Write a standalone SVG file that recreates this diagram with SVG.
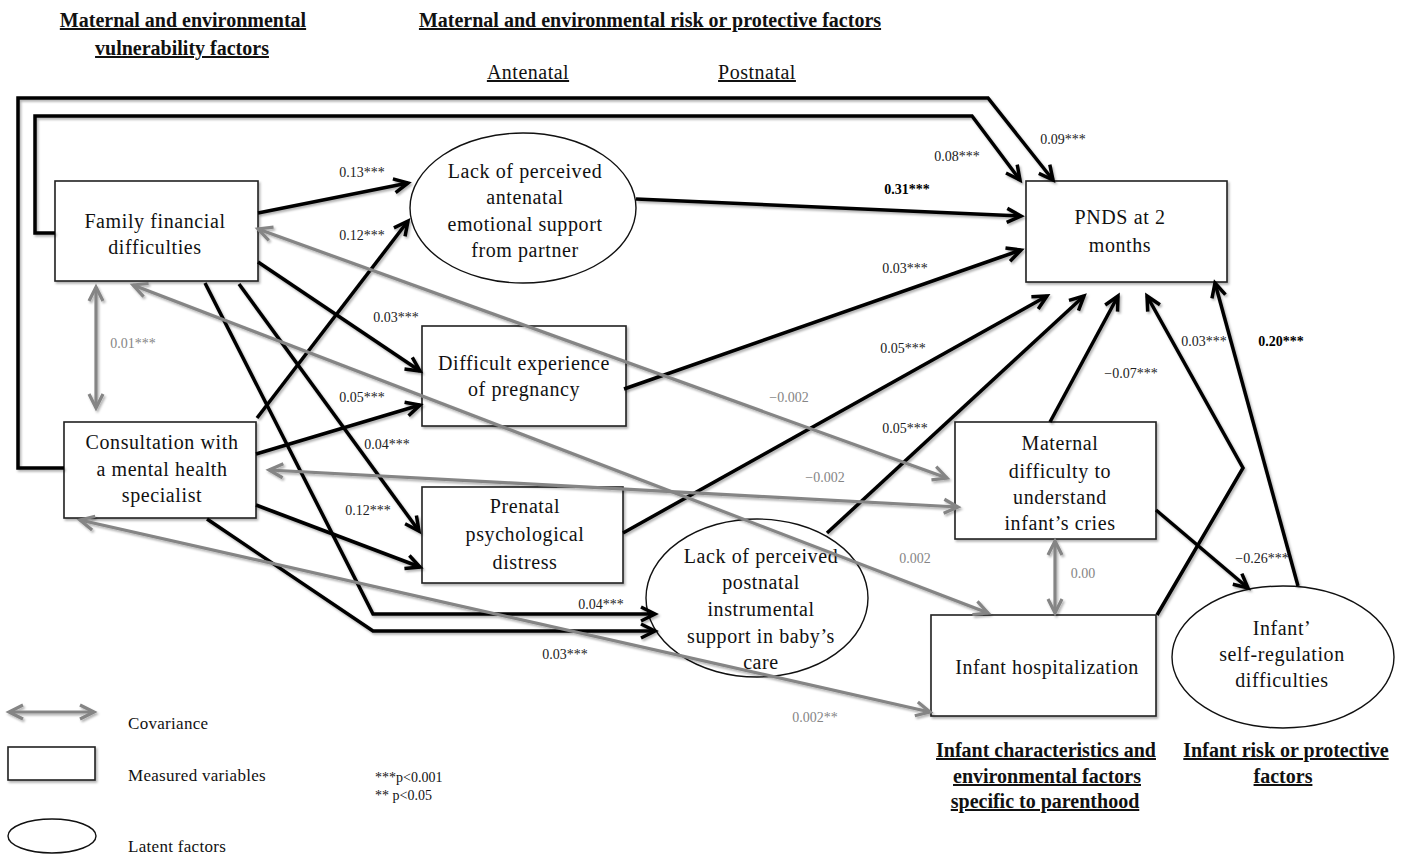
<svg xmlns="http://www.w3.org/2000/svg" width="1408" height="855" viewBox="0 0 1408 855">
<defs>
<style>
.node rect{fill:#fff;stroke:#222;stroke-width:1.6}
.node ellipse{fill:#fff;stroke:#111;stroke-width:1.4}
.nt{font-family:"Liberation Serif","Times New Roman",serif;font-size:20px;letter-spacing:0.6px;fill:#111;text-anchor:middle}
.hd{font-family:"Liberation Serif","Times New Roman",serif;font-size:20px;font-weight:bold;fill:#111;text-anchor:middle;text-decoration:underline}
.sub{font-family:"Liberation Serif","Times New Roman",serif;font-size:20px;letter-spacing:0.5px;fill:#111;text-anchor:middle;text-decoration:underline}
.blk{fill:none;stroke:#000;stroke-width:3.5;stroke-linejoin:miter}
.gry{fill:none;stroke:#858585;stroke-width:3.2}
.lb{font-family:"Liberation Serif","Times New Roman",serif;font-size:14px;fill:#222;text-anchor:middle}
.lbb{font-weight:bold;fill:#000}
.lg{font-family:"Liberation Serif","Times New Roman",serif;font-size:14px;fill:#858585;text-anchor:middle}
.leg{font-family:"Liberation Serif","Times New Roman",serif;font-size:17px;letter-spacing:0.3px;fill:#111}
.legs{font-family:"Liberation Serif","Times New Roman",serif;font-size:14px;fill:#111}
</style>
<filter id="sh" filterUnits="userSpaceOnUse" x="0" y="0" width="1408" height="855">
<feDropShadow dx="1.5" dy="2" stdDeviation="1.3" flood-color="#000" flood-opacity="0.3"/>
</filter>
<marker id="ab" markerUnits="userSpaceOnUse" markerWidth="20" markerHeight="20" refX="15" refY="8" orient="auto" overflow="visible">
<path d="M1,1 L15,8 L1,15" fill="none" stroke="#000" stroke-width="3.5"/>
</marker>
<marker id="ag" markerUnits="userSpaceOnUse" markerWidth="20" markerHeight="20" refX="15" refY="8" orient="auto-start-reverse" overflow="visible">
<path d="M1,1 L15,8 L1,15" fill="none" stroke="#858585" stroke-width="3.2"/>
</marker>
</defs>
<rect width="1408" height="855" fill="#fff"/>

<g id="headers">
<text class="hd" x="183" y="27">Maternal and environmental</text>
<text class="hd" x="182" y="55">vulnerability factors</text>
<text class="hd" x="650" y="27">Maternal and environmental risk or protective factors</text>
<text class="sub" x="528" y="79">Antenatal</text>
<text class="sub" x="757" y="79">Postnatal</text>
<text class="hd" x="1046" y="757">Infant characteristics and</text>
<text class="hd" x="1047" y="783">environmental factors</text>
<text class="hd" x="1045" y="808">specific to parenthood</text>
<text class="hd" x="1286" y="757">Infant risk or protective</text>
<text class="hd" x="1283" y="783">factors</text>
</g>

<g id="family" class="node">
<rect x="55" y="181" width="203" height="100" filter="url(#sh)"/>
<text class="nt" x="155" y="228">Family financial</text>
<text class="nt" x="155" y="254">difficulties</text>
</g>
<g id="consultation" class="node">
<rect x="64" y="422" width="192" height="96" filter="url(#sh)"/>
<text class="nt" x="162" y="449">Consultation with</text>
<text class="nt" x="162" y="476">a mental health</text>
<text class="nt" x="162" y="502">specialist</text>
</g>
<g id="antenatal-support" class="node">
<ellipse cx="523" cy="208" rx="113" ry="75"/>
<text class="nt" x="525" y="178">Lack of perceived</text>
<text class="nt" x="525" y="204">antenatal</text>
<text class="nt" x="525" y="231">emotional support</text>
<text class="nt" x="525" y="257">from partner</text>
</g>
<g id="difficult-pregnancy" class="node">
<rect x="422" y="326" width="204" height="100" filter="url(#sh)"/>
<text class="nt" x="524" y="370">Difficult experience</text>
<text class="nt" x="524" y="396">of pregnancy</text>
</g>
<g id="prenatal-distress" class="node">
<rect x="422" y="487" width="201" height="96" filter="url(#sh)"/>
<text class="nt" x="525" y="513">Prenatal</text>
<text class="nt" x="525" y="541">psychological</text>
<text class="nt" x="525" y="569">distress</text>
</g>
<g id="postnatal-support" class="node">
<ellipse cx="757" cy="598" rx="111" ry="79"/>
<text class="nt" x="761" y="563">Lack of perceived</text>
<text class="nt" x="761" y="589">postnatal</text>
<text class="nt" x="761" y="616">instrumental</text>
<text class="nt" x="761" y="643">support in baby’s</text>
<text class="nt" x="761" y="669">care</text>
</g>
<g id="pnds" class="node">
<rect x="1026" y="181" width="201" height="101" filter="url(#sh)"/>
<text class="nt" x="1120" y="224">PNDS at 2</text>
<text class="nt" x="1120" y="252">months</text>
</g>
<g id="maternal-cries" class="node">
<rect x="955" y="422" width="201" height="117" filter="url(#sh)"/>
<text class="nt" x="1060" y="450">Maternal</text>
<text class="nt" x="1060" y="478">difficulty to</text>
<text class="nt" x="1060" y="504">understand</text>
<text class="nt" x="1060" y="530">infant’s cries</text>
</g>
<g id="hospitalization" class="node">
<rect x="931" y="615" width="225" height="101" filter="url(#sh)"/>
<text class="nt" x="1047" y="674">Infant hospitalization</text>
</g>
<g id="self-regulation" class="node">
<ellipse cx="1283" cy="657" rx="111" ry="71"/>
<text class="nt" x="1282" y="635">Infant’</text>
<text class="nt" x="1282" y="661">self-regulation</text>
<text class="nt" x="1282" y="687">difficulties</text>
</g>

<g id="connectors">
<g filter="url(#sh)">
<path class="blk" d="M55,233 L35,233 L35,116 L972,116 L1020,180" marker-end="url(#ab)"/>
<path class="blk" d="M64,468 L18,468 L18,98 L988,98 L1053,180" marker-end="url(#ab)"/>
<path class="blk" d="M258,213 L408,183" marker-end="url(#ab)"/>
<path class="blk" d="M257,418 L408,221" marker-end="url(#ab)"/>
<path class="blk" d="M258,262 L420,371" marker-end="url(#ab)"/>
<path class="blk" d="M256,454 L420,405" marker-end="url(#ab)"/>
<path class="blk" d="M239,284 L419,531" marker-end="url(#ab)"/>
<path class="blk" d="M256,505 L420,567" marker-end="url(#ab)"/>
<path class="blk" d="M205,283 L373,614 L655,614" marker-end="url(#ab)"/>
<path class="blk" d="M207,519 L373,631 L655,631" marker-end="url(#ab)"/>
<path class="blk" d="M636,199 L1021,216" marker-end="url(#ab)"/>
<path class="blk" d="M624,389 L1021,250" marker-end="url(#ab)"/>
<path class="blk" d="M623,533 L1047,296" marker-end="url(#ab)"/>
<path class="blk" d="M827,533 L1084,296" marker-end="url(#ab)"/>
<path class="blk" d="M1050,422 L1118,296" marker-end="url(#ab)"/>
<path class="blk" d="M1157,615 L1243,468 L1147,296" marker-end="url(#ab)"/>
<path class="blk" d="M1298,586 L1215,283" marker-end="url(#ab)"/>
<path class="blk" d="M1156,510 L1248,588" marker-end="url(#ab)"/>
<path class="gry" d="M96,287 L96,408" marker-start="url(#ag)" marker-end="url(#ag)"/>
<path class="gry" d="M258,229 L947,478" marker-start="url(#ag)" marker-end="url(#ag)"/>
<path class="gry" d="M133,285 L988,613" marker-start="url(#ag)" marker-end="url(#ag)"/>
<path class="gry" d="M269,470 L958,507" marker-start="url(#ag)" marker-end="url(#ag)"/>
<path class="gry" d="M80,520 L930,712" marker-start="url(#ag)" marker-end="url(#ag)"/>
<path class="gry" d="M1055,541 L1055,613" marker-start="url(#ag)" marker-end="url(#ag)"/>
</g>
<g id="labels">
<text class="lb" x="362" y="177">0.13***</text>
<text class="lb" x="362" y="240">0.12***</text>
<text class="lb" x="396" y="322">0.03***</text>
<text class="lb" x="362" y="402">0.05***</text>
<text class="lb" x="387" y="449">0.04***</text>
<text class="lb" x="368" y="515">0.12***</text>
<text class="lb" x="601" y="609">0.04***</text>
<text class="lb" x="565" y="659">0.03***</text>
<text class="lb lbb" x="907" y="194">0.31***</text>
<text class="lb" x="957" y="161">0.08***</text>
<text class="lb" x="1063" y="144">0.09***</text>
<text class="lb" x="905" y="273">0.03***</text>
<text class="lb" x="903" y="353">0.05***</text>
<text class="lb" x="905" y="433">0.05***</text>
<text class="lb" x="1131" y="378">−0.07***</text>
<text class="lb" x="1204" y="346">0.03***</text>
<text class="lb lbb" x="1281" y="346">0.20***</text>
<text class="lb" x="1262" y="563">−0.26***</text>
<text class="lg" x="133" y="348">0.01***</text>
<text class="lg" x="789" y="402">−0.002</text>
<text class="lg" x="825" y="482">−0.002</text>
<text class="lg" x="915" y="563">0.002</text>
<text class="lg" x="815" y="722">0.002**</text>
<text class="lg" x="1083" y="578">0.00</text>
</g>
</g>

<g id="legend">
<g filter="url(#sh)">
<path class="gry" d="M9,712 L94,712" marker-start="url(#ag)" marker-end="url(#ag)"/>
<rect x="8" y="747" width="87" height="33" fill="#fff" stroke="#222" stroke-width="1.6"/>
</g>
<text class="leg" x="128" y="729">Covariance</text>
<text class="leg" x="128" y="781">Measured variables</text>
<ellipse cx="52" cy="836" rx="44" ry="17" fill="#fff" stroke="#111" stroke-width="1.4"/>
<text class="leg" x="128" y="852">Latent factors</text>
<text class="legs" x="375" y="782">***p&lt;0.001</text>
<text class="legs" x="375" y="800">** p&lt;0.05</text>
</g>
</svg>
